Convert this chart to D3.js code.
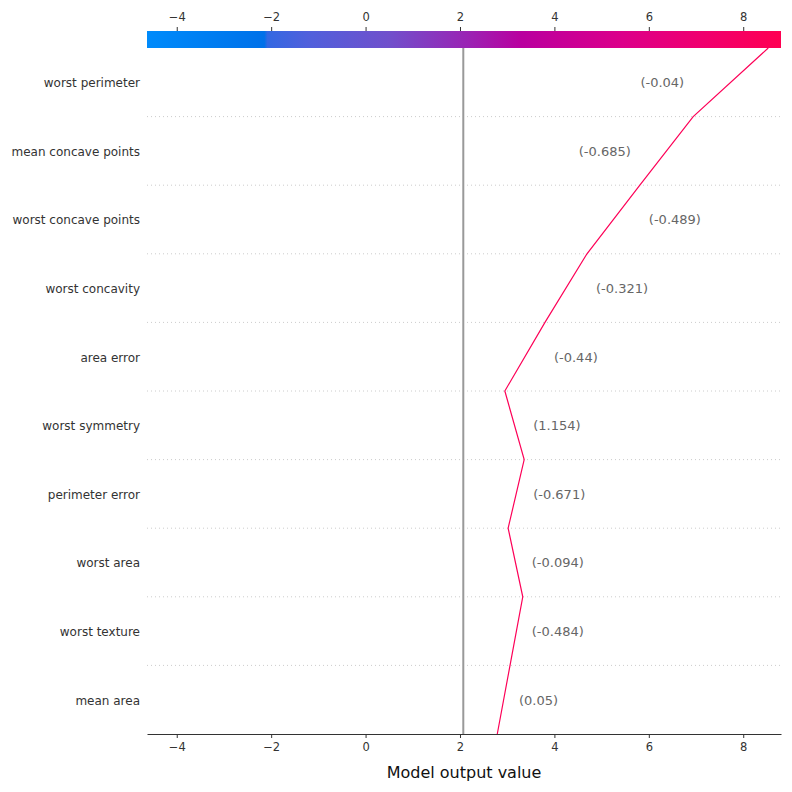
<!DOCTYPE html>
<html><head><meta charset="utf-8">
<script src="https://cdn.jsdelivr.net/npm/d3@7"></script>
<style>body{margin:0;background:#fff;} svg{display:block;font-family:"DejaVu Sans",sans-serif;}</style>
</head><body>
<script>
const features = ["worst perimeter","mean concave points","worst concave points","worst concavity","area error","worst symmetry","perimeter error","worst area","worst texture","mean area"];
const featureValues = ["(-0.04)","(-0.685)","(-0.489)","(-0.321)","(-0.44)","(1.154)","(-0.671)","(-0.094)","(-0.484)","(0.05)"];
// cumulative model output at row boundaries, top to bottom
const boundaryValues = [8.53, 6.94, 5.81, 4.69, 3.80, 2.95, 3.36, 3.02, 3.33, 3.06, 2.79];
const baseValue = 2.07;
const xDomain = [-4.63, 8.80];
const tickValues = [-4,-2,0,2,4,6,8];
// colormap stops (fraction of range, colour)
const cmapStops = [0, 0.185, 0.19, 0.253, 0.38, 0.505, 0.59, 0.75, 0.87, 1];
const cmapColors = ["#008bfb","#0071e9","#3368e2","#5060dc","#7050cc","#9a24b4","#b9009f","#dc008a","#ef0070","#ff0052"];

const W = 792, H = 792;
const m = {left:147, right:11, top:48, bottom:58};
const svg = d3.select("body").append("svg").attr("width",W).attr("height",H);
const x = d3.scaleLinear().domain(xDomain).range([m.left, W-m.right]);
const y = d3.scaleLinear().domain([0, features.length]).range([m.top, H-m.bottom]);
const color = d3.scaleLinear()
  .domain(cmapStops.map(t=>xDomain[0]+t*(xDomain[1]-xDomain[0])))
  .range(cmapColors).interpolate(d3.interpolateRgb);

// colorbar
const defs = svg.append("defs");
const grad = defs.append("linearGradient").attr("id","cb").attr("x1","0%").attr("x2","100%");
cmapStops.forEach((t,i)=>{
  grad.append("stop").attr("offset",(t*100)+"%").attr("stop-color",cmapColors[i]);
});
svg.append("rect").attr("x",m.left).attr("y",31).attr("width",W-m.right-m.left).attr("height",17).attr("fill","url(#cb)");
const topAxis = svg.append("g").attr("transform","translate(0,31)")
  .call(d3.axisTop(x).tickValues(tickValues).tickFormat(d=>d<0?"\u2212"+Math.abs(d):d).tickSize(4).tickPadding(6));
topAxis.select(".domain").remove();
topAxis.selectAll("text").attr("font-size",11.5).attr("fill","#333").attr("font-family","DejaVu Sans");
topAxis.selectAll("line").attr("stroke","#333");

// gridlines
svg.append("g").selectAll("line").data(d3.range(1,features.length)).join("line")
  .attr("x1",m.left).attr("x2",W-m.right).attr("y1",d=>y(d)).attr("y2",d=>y(d))
  .attr("stroke","#ccc").attr("stroke-width",1).attr("stroke-dasharray","1,3");

// base line
svg.append("line").attr("x1",x(baseValue)).attr("x2",x(baseValue)).attr("y1",m.top).attr("y2",H-m.bottom)
  .attr("stroke","#999").attr("stroke-width",2);

// bottom axis
const botAxis = svg.append("g").attr("transform",`translate(0,${H-m.bottom})`)
  .call(d3.axisBottom(x).tickValues(tickValues).tickFormat(d=>d<0?"\u2212"+Math.abs(d):d).tickSize(4).tickPadding(5).tickSizeOuter(0));
botAxis.selectAll("text").attr("font-size",11.5).attr("fill","#333").attr("font-family","DejaVu Sans");
botAxis.selectAll("line").attr("stroke","#333");
botAxis.select(".domain").attr("stroke","#333");
svg.append("text").attr("x",(m.left+W-m.right)/2).attr("y",778).attr("text-anchor","middle")
  .attr("font-size",16).attr("fill","#111").text("Model output value");

// feature labels
svg.append("g").selectAll("text").data(features).join("text")
  .attr("x",m.left-7).attr("y",(d,i)=>y(i+0.5)).attr("dy","0.4em").attr("text-anchor","end")
  .attr("font-size",12).attr("fill","#333").text(d=>d);

// decision line
const last = boundaryValues[0];
svg.append("path").datum(boundaryValues)
  .attr("d",d3.line().x(d=>x(d)).y((d,i)=>y(i)))
  .attr("fill","none").attr("stroke",color(last)).attr("stroke-width",1.2);

// value labels
const vl = svg.append("g");
featureValues.forEach((v,i)=>{
  const a = boundaryValues[i], b = boundaryValues[i+1];
  const hi = Math.max(a,b), lo = Math.min(a,b);
  const t = vl.append("text").attr("y",y(i+0.5)).attr("dy","0.38em").attr("font-size",13).attr("fill","#666").text(v);
  const w = t.node().getComputedTextLength();
  const gap = 9;
  if (x(hi)+gap+w > W-m.right-40) {
    t.attr("x",x(lo)-gap).attr("text-anchor","end");
  } else {
    t.attr("x",x(hi)+gap).attr("text-anchor","start");
  }
});
</script>
</body></html>
